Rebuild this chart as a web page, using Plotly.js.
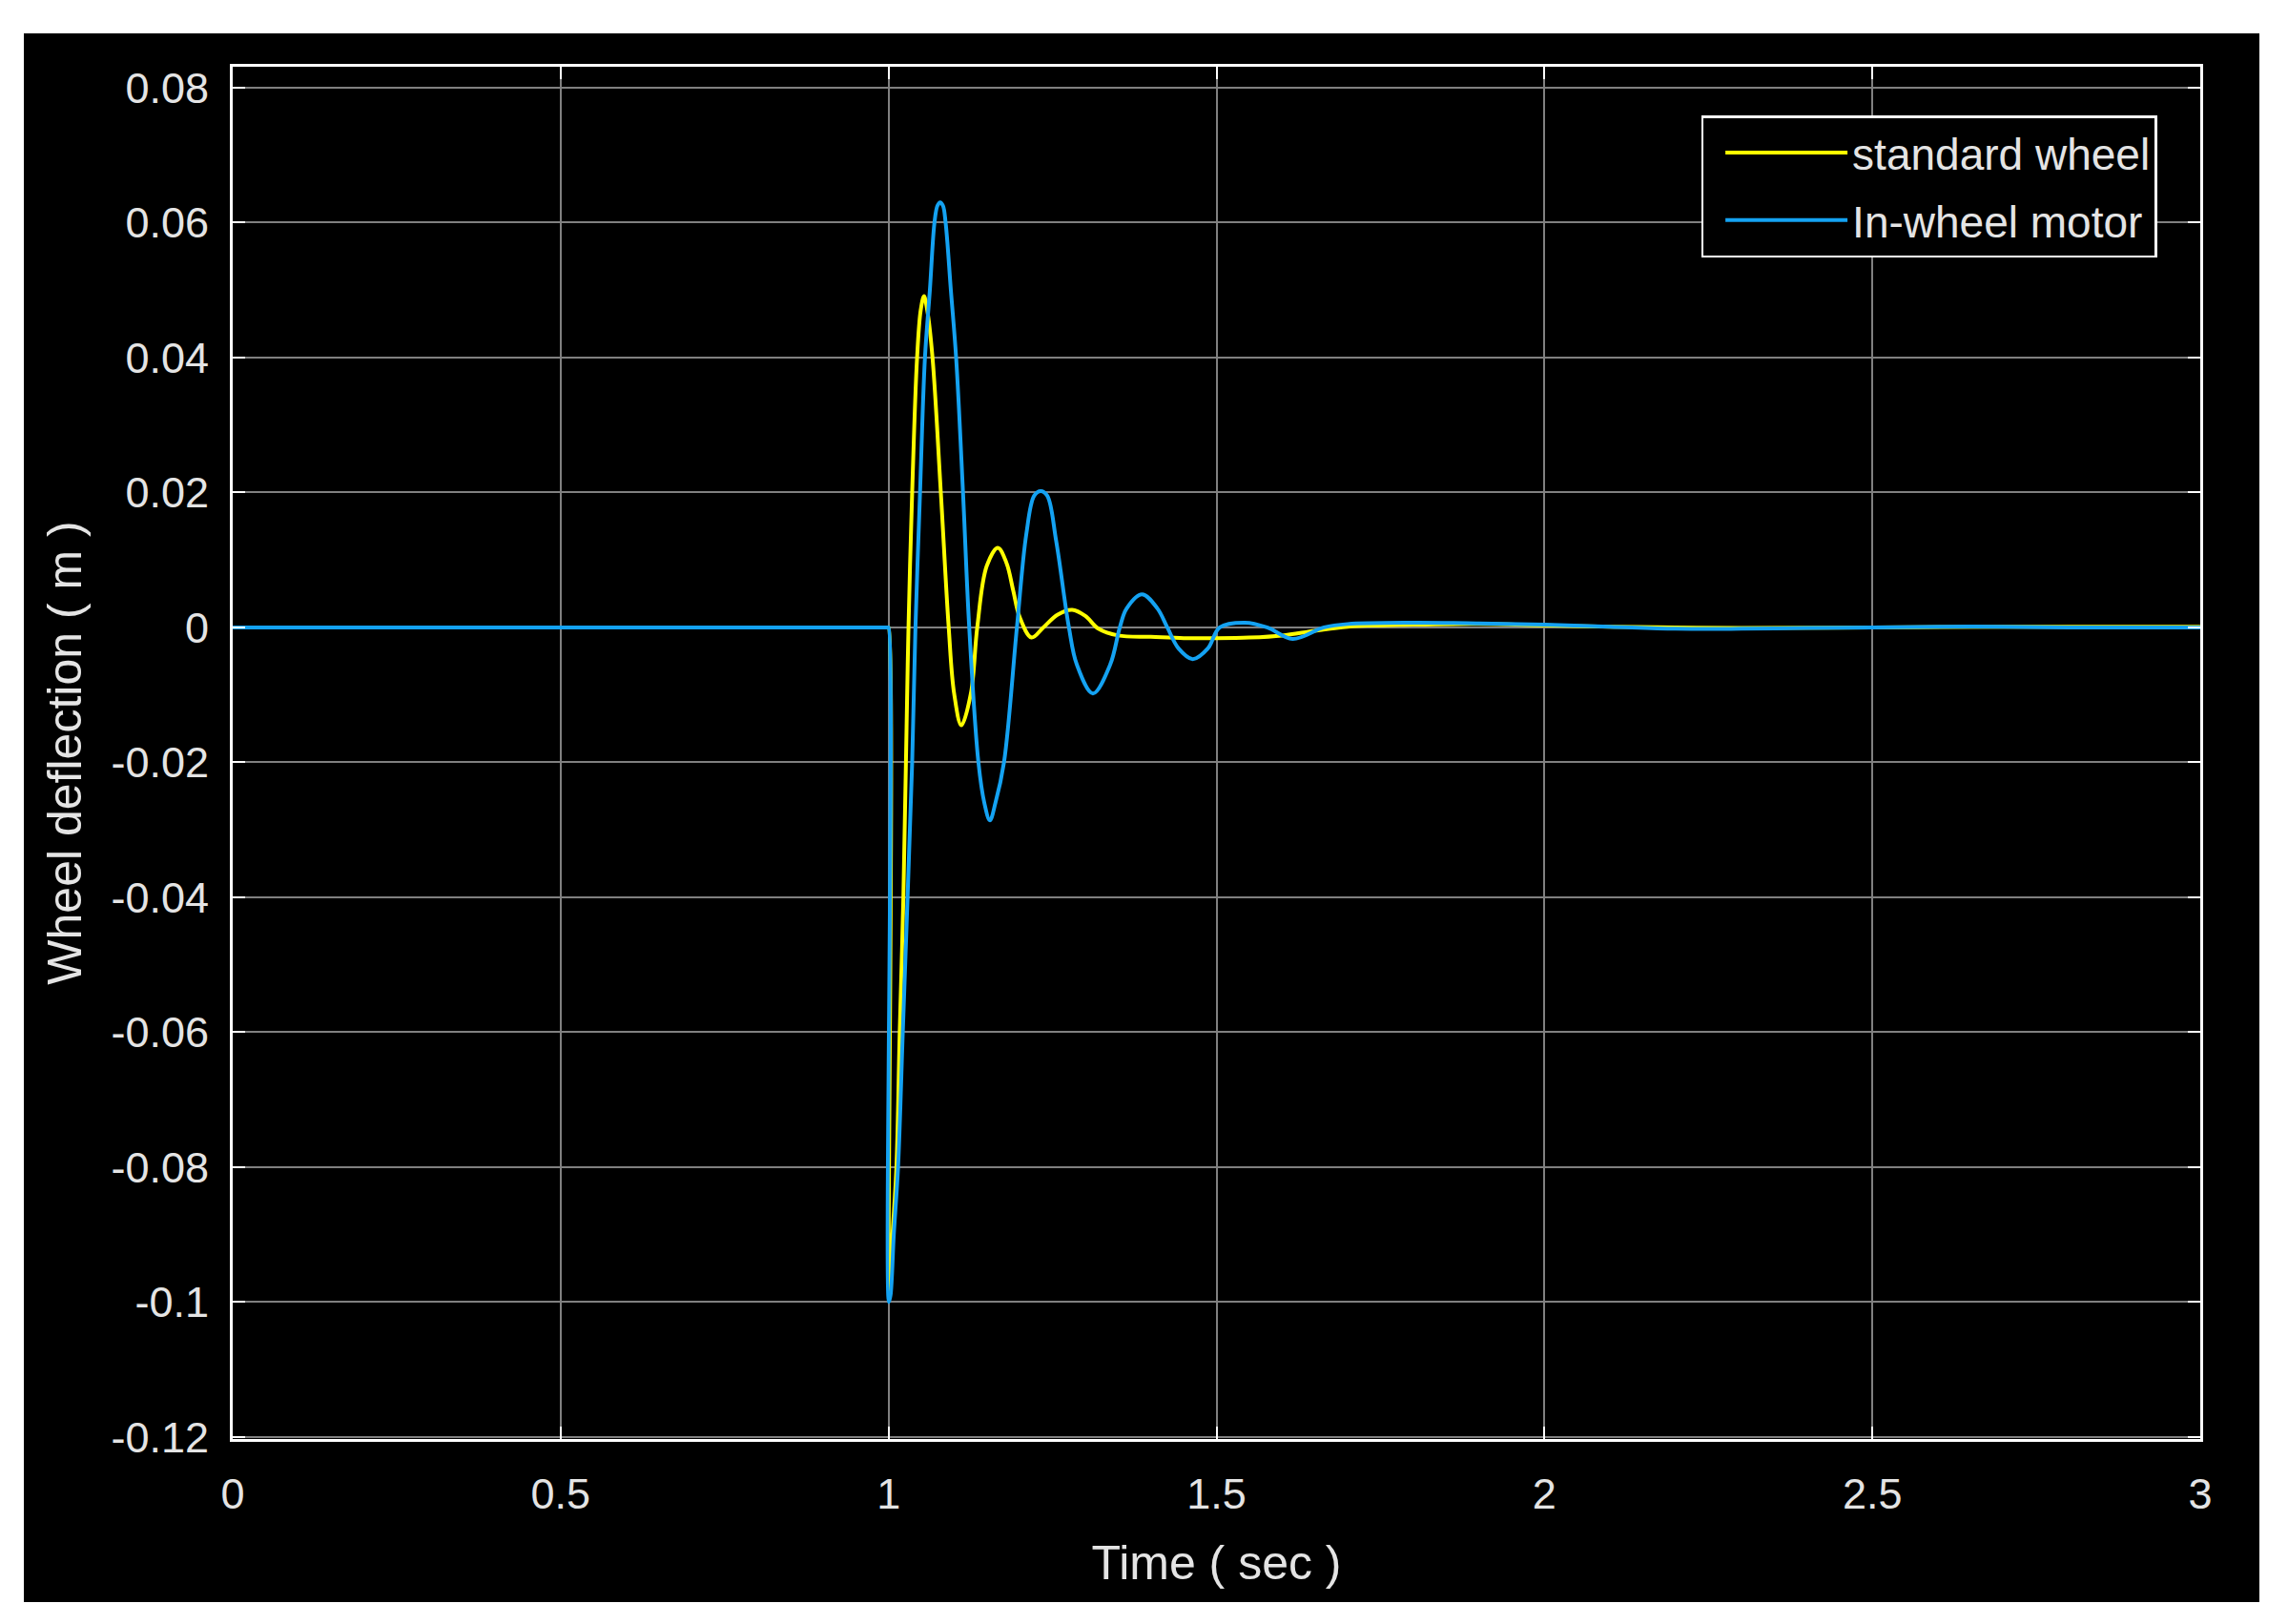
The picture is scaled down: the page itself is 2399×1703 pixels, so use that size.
<!DOCTYPE html>
<html>
<head>
<meta charset="utf-8">
<script src="https://cdn.plot.ly/plotly-3.0.1.min.js"></script>
<style>
  html, body { margin: 0; padding: 0; background: #ffffff; width: 2399px; height: 1703px; overflow: hidden; }
  #chart { position: absolute; left: 25px; top: 35px; width: 2344px; height: 1645px; }
</style>
</head>
<body>
<div id="chart"></div>
<script>
// ---- data ----
const seriesNames = ["standard wheel", "In-wheel motor"];

const stdTime = [0, 0.999, 1.0, 1.001, 1.006, 1.012, 1.017, 1.0226, 1.0265, 1.0304, 1.036, 1.0435, 1.049, 1.054, 1.059, 1.067, 1.0797, 1.0917,
  1.100, 1.111, 1.1255, 1.1352, 1.1497, 1.1667, 1.18, 1.19, 1.2, 1.218, 1.236, 1.258, 1.28, 1.3, 1.32, 1.35, 1.4, 1.45, 1.5, 1.55, 1.6,
  1.65, 1.7, 1.8, 1.9, 2.0, 2.1, 2.2, 2.3, 2.5, 2.7, 3.0];
const stdDeflection = [0, 0, 0, -0.099, -0.09, -0.08, -0.06, -0.04, -0.02, 0, 0.02, 0.04, 0.047, 0.0491, 0.047, 0.04, 0.02, 0,
  -0.0098, -0.0145, -0.0098, 0, 0.0091, 0.0118, 0.0095, 0.0055, 0.0015, -0.0015, 0, 0.0019, 0.0026, 0.0017, -0.0002, -0.0012, -0.0014, -0.0016, -0.0016, -0.0015, -0.0012,
  -0.0005, 0.0001, 0.0004, 0.0005, 0.0003, 0.0001, 0, -0.0001, 0, 0.0001, 0.0001];

const motorTime = [0, 0.999, 1.0, 1.0005, 1.003, 1.008, 1.0145, 1.0217, 1.029, 1.036, 1.041, 1.048, 1.0555, 1.063, 1.070, 1.0745, 1.0787, 1.083, 1.087,
  1.095, 1.103, 1.1135, 1.123, 1.137, 1.146, 1.1545, 1.163, 1.176, 1.1957, 1.21, 1.222, 1.232, 1.242, 1.2556, 1.275,
  1.287, 1.3116, 1.338, 1.3526, 1.363, 1.3864, 1.41, 1.425, 1.442, 1.4638, 1.487, 1.505, 1.5435, 1.577, 1.616, 1.664,
  1.7, 1.8, 1.9, 2.0, 2.1, 2.2, 2.3, 2.4, 2.5, 2.6, 2.7, 2.8, 3.0];
const motorDeflection = [0, 0, 0, -0.1, -0.099, -0.09, -0.08, -0.06, -0.04, -0.02, 0, 0.02, 0.04, 0.05, 0.06, 0.0625, 0.063, 0.0625, 0.06,
  0.05, 0.04, 0.02, 0, -0.02, -0.026, -0.0286, -0.026, -0.02, 0, 0.0138, 0.0195, 0.0202, 0.0195, 0.0128, 0,
  -0.0055, -0.0098, -0.0055, 0, 0.0028, 0.0049, 0.0028, 0, -0.0031, -0.0047, -0.0031, 0, 0.0007, 0, -0.0017, 0,
  0.0005, 0.0007, 0.0006, 0.0004, 0.0001, -0.0002, -0.0002, -0.0001, 0, 0.0001, 0.0001, 0, 0];

const xTickVals = [0, 0.5, 1, 1.5, 2, 2.5, 3];
const xTickText = ["0", "0.5", "1", "1.5", "2", "2.5", "3"];
const yTickVals = [0.08, 0.06, 0.04, 0.02, 0, -0.02, -0.04, -0.06, -0.08, -0.1, -0.12];
const yTickText = ["0.08", "0.06", "0.04", "0.02", "0", "-0.02", "-0.04", "-0.06", "-0.08", "-0.1", "-0.12"];

const xTitle = "Time ( sec )";
const yTitle = "Wheel deflection ( m )";

// ---- styling ----
const FONT = "Liberation Sans, Arial, sans-serif";
const TEXT = "#e4e4e4";

const traces = [
  { x: stdTime, y: stdDeflection, name: seriesNames[0], legendgroup: "g1", type: "scatter", mode: "lines",
    line: { color: "#ffff00", width: 4, shape: "spline", smoothing: 1 } },
  { x: motorTime, y: motorDeflection, name: seriesNames[1], legendgroup: "g2", type: "scatter", mode: "lines",
    line: { color: "#14a2f2", width: 4, shape: "spline", smoothing: 1 } }
];

const axisCommon = {
  showline: true, linecolor: "#ffffff", linewidth: 3, mirror: "ticks",
  ticks: "inside", ticklen: 13, tickwidth: 2, tickcolor: "#ffffff",
  showgrid: true, gridcolor: "#808080", gridwidth: 2,
  zeroline: false, tickmode: "array",
  tickfont: { family: FONT, size: 45, color: TEXT }
};

const layout = {
  width: 2344, height: 1645,
  margin: { l: 219, r: 62, t: 35, b: 171 },
  paper_bgcolor: "#000000", plot_bgcolor: "#000000",
  showlegend: true,
  legend: {
    x: 0.978, y: 0.9645, xanchor: "right", yanchor: "top",
    bgcolor: "#000000", bordercolor: "#ffffff", borderwidth: 2.5,
    font: { family: FONT, size: 46, color: TEXT },
    itemwidth: 128, indentation: 18, tracegroupgap: 8
  },
  xaxis: Object.assign({}, axisCommon, {
    range: [0, 3], tickvals: xTickVals, ticktext: xTickText,
    ticklabelstandoff: 16,
    title: { text: xTitle, font: { family: FONT, size: 50, color: TEXT }, standoff: 30 }
  }),
  yaxis: Object.assign({}, axisCommon, {
    range: [-0.1203, 0.0831], tickvals: yTickVals, ticktext: yTickText,
    ticklabelstandoff: 13,
    title: { text: yTitle, font: { family: FONT, size: 50, color: TEXT }, standoff: 15 }
  })
};

Plotly.newPlot("chart", traces, layout, { displayModeBar: false, staticPlot: true });
</script>
</body>
</html>
